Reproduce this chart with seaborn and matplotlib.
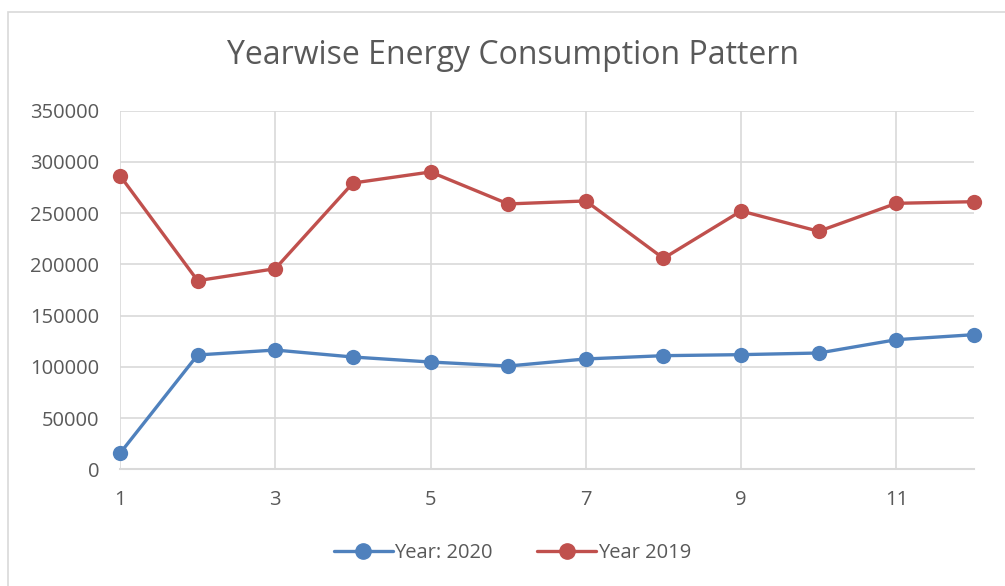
import pandas as pd
import matplotlib.pyplot as plt
import seaborn as sns
from matplotlib.patches import Rectangle

# Data
months = list(range(1, 13))
year_2020 = [15600, 111600, 116400, 109600, 104700, 100800, 107700, 110900, 111900, 113500, 126500, 131400]
year_2019 = [286600, 184100, 195800, 279400, 290200, 259000, 261900, 205900, 252100, 232300, 259600, 261200]
series_names = ["Year: 2020", "Year 2019"]
x_ticks = [1, 3, 5, 7, 9, 11]
y_ticks = [0, 50000, 100000, 150000, 200000, 250000, 300000, 350000]

df = pd.DataFrame({
    "month": months * 2,
    "value": year_2020 + year_2019,
    "series": [series_names[0]] * 12 + [series_names[1]] * 12,
})

sns.set_theme(style="white")
plt.rcParams["font.family"] = ["Open Sans", "DejaVu Sans"]

text_color = "#595959"
grid_color = "#d9d9d9"

fig = plt.figure(figsize=(10.05, 5.86), dpi=100)
ax = fig.add_axes([120 / 1005, 1 - 469.3 / 586, (974 - 120) / 1005, (469.3 - 110.7) / 586])

sns.lineplot(
    data=df, x="month", y="value", hue="series",
    palette=["#4F81BD", "#C0504D"], marker="o", markersize=11,
    markeredgewidth=0, linewidth=2.4, ax=ax, legend=False,
)
for line in ax.lines:
    line.set_clip_on(False)

ax.set_xlim(1, 12)
ax.set_ylim(0, 350000)
ax.set_xticks(x_ticks)
ax.set_yticks(y_ticks)
ax.set_xticklabels([str(t) for t in x_ticks])
ax.set_yticklabels([str(t) for t in y_ticks])
ax.grid(True, color=grid_color, linewidth=1.2)
ax.set_axisbelow(True)
ax.set_xlabel("")
ax.set_ylabel("")
for side in ["top", "right", "left"]:
    ax.spines[side].set_visible(False)
ax.spines["bottom"].set_color(grid_color)
ax.spines["bottom"].set_linewidth(1.5)
ax.tick_params(axis="both", length=0, colors=text_color, labelsize=14.5)
ax.tick_params(axis="x", pad=15)
ax.tick_params(axis="y", pad=15)

fig.text(0.51, 1 - 55 / 586, "Yearwise Energy Consumption Pattern",
         ha="center", va="center", fontsize=23, color=text_color)

handles = [
    plt.Line2D([], [], color="#4F81BD", marker="o", markersize=11, linewidth=2.4),
    plt.Line2D([], [], color="#C0504D", marker="o", markersize=11, linewidth=2.4),
]
fig.legend(handles, series_names, loc="center", bbox_to_anchor=(0.51, 1 - 553 / 586),
           ncol=2, frameon=False, fontsize=14.5, labelcolor=text_color,
           handlelength=2.9, handletextpad=0.1, columnspacing=2.2)

# chart border
fig.patches.append(Rectangle((8 / 1005, -0.1), 1.1, 1.1 - 12 / 586,
                             transform=fig.transFigure, fill=False,
                             edgecolor=grid_color, linewidth=1.2))

fig.savefig("out.png", dpi=100)
